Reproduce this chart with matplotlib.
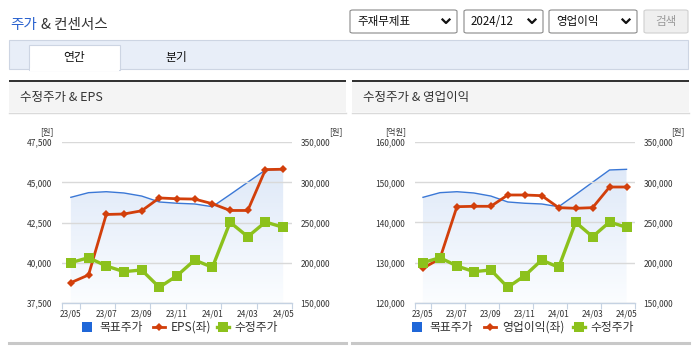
import numpy as np
import matplotlib.pyplot as plt
from matplotlib.patches import Rectangle, FancyBboxPatch
from matplotlib.lines import Line2D
from matplotlib.colors import LinearSegmentedColormap

plt.rcParams['font.family'] = ['Noto Sans CJK KR', 'DejaVu Sans']

# data
months = ['23/05', '23/06', '23/07', '23/08', '23/09', '23/10', '23/11',
          '23/12', '24/01', '24/02', '24/03', '24/04', '24/05']
target_price = [281400, 287200, 288400, 286800, 283000, 275600, 274000,
                273100, 269700, 284800, 300200, 315500, 316300]
adj_price = [200000, 206100, 195800, 188700, 190800, 169200, 183700,
             203200, 194100, 250300, 232300, 250600, 244000]
eps = [38750, 39230, 43000, 43030, 43230, 44030, 43980,
       43960, 43670, 43250, 43250, 45800, 45820]
op_income = [128580, 131000, 143940, 144040, 144040, 146860, 146860,
             146690, 143700, 143540, 143700, 148850, 148850]

eps_ticks = [37500, 40000, 42500, 45000, 47500]
op_ticks = [120000, 130000, 140000, 150000, 160000]
price_ticks = [150000, 200000, 250000, 300000, 350000]

W, H = 695, 349
BLUE = '#3b78d6'
RED = '#d23f0b'
GREEN = '#8cc11c'
TXT = '#333333'

fig = plt.figure(figsize=(W / 100, H / 100), dpi=100)
fig.patch.set_facecolor('white')


def fx(x):
    return x / W


def fy(y):
    return 1 - y / H


def rect(x, y, w, h, fc, ec='none', lw=0, z=0):
    fig.patches.append(Rectangle((fx(x), fy(y + h)), w / W, h / H, transform=fig.transFigure,
                                 facecolor=fc, edgecolor=ec, linewidth=lw, zorder=z))


def hline(x0, x1, y, color, lw=1.0):
    fig.add_artist(Line2D([fx(x0), fx(x1)], [fy(y), fy(y)], transform=fig.transFigure,
                          color=color, linewidth=lw))


# top title
fig.text(fx(10), fy(25), '주가', color='#2a62cf', fontsize=10.5, va='center')
fig.text(fx(41), fy(25), '& 컨센서스', color=TXT, fontsize=10.5, va='center')

# dropdowns
boxes = [(350, 457, '주재무제표'), (464, 543, '2024/12'), (549, 637, '영업이익')]
for x0, x1, lab in boxes:
    fig.patches.append(FancyBboxPatch((fx(x0), fy(33)), (x1 - x0) / W, 23 / H,
                                      boxstyle='round,pad=0,rounding_size=0.004',
                                      transform=fig.transFigure, facecolor='white',
                                      edgecolor='#8a8a8a', linewidth=0.8))
    fig.text(fx(x0 + 7), fy(21.5), lab, fontsize=8.3, color='#111111', va='center')
    cx = x1 - 11
    fig.add_artist(Line2D([fx(cx - 3.5), fx(cx), fx(cx + 3.5)], [fy(19.5), fy(23), fy(19.5)],
                          transform=fig.transFigure, color='#111111', linewidth=1.6))
fig.patches.append(FancyBboxPatch((fx(644), fy(33)), 44 / W, 23 / H,
                                  boxstyle='round,pad=0,rounding_size=0.004',
                                  transform=fig.transFigure, facecolor='#efefef',
                                  edgecolor='#cfcfcf', linewidth=0.8))
fig.text(fx(666), fy(21.5), '검색', fontsize=8.3, color='#9a9a9a', va='center', ha='center')

# tab bar
rect(9, 40, 679, 29, '#e8eef8', ec='#cdd5e3', lw=0.8)
rect(29, 45, 91, 25, 'white', ec='#cdd5e3', lw=0.8, z=1)
rect(29.6, 68, 89.8, 3, 'white', z=2)
fig.text(fx(74.5), fy(57.5), '연간', fontsize=8.5, color='#111111', ha='center', va='center')
fig.text(fx(176), fy(57.5), '분기', fontsize=8.5, color='#111111', ha='center', va='center')


def panel(x0, x1, title):
    rect(x0, 82, x1 - x0, 30, '#f4f4f4')
    rect(x0, 79.5, x1 - x0, 2.5, '#333333')
    hline(x0, x1, 112.5, '#dadada', 1.0)
    hline(x0, x1, 343, '#c8c8c8', 2.2)
    fig.text(fx(x0 + 11), fy(97), title, fontsize=9, color=TXT, va='center')


panel(9, 346, '수정주가 & EPS')
panel(352, 689, '수정주가 & 영업이익')

grad = LinearSegmentedColormap.from_list('g', ['#fbfdff', '#dfe9f8'])
x = np.arange(len(months))


def chart(left, right, lvals, lticks, lname, lunit, legend_x):
    top, bot = 142.3, 302.7
    ax = fig.add_axes([fx(left), fy(bot), (right - left) / W, (bot - top) / H])
    ax_area = ax.twinx()
    ax_top = ax.twinx()
    ax_area.set_zorder(0)
    ax.set_zorder(1)
    ax_top.set_zorder(2)
    ax.patch.set_visible(False)
    ax_top.patch.set_visible(False)

    for a in (ax, ax_area, ax_top):
        for s in a.spines.values():
            s.set_visible(False)
    ax.set_xlim(-0.5, len(months) - 0.5)
    ax.set_ylim(lticks[0], lticks[-1])
    ax_area.set_ylim(price_ticks[0], price_ticks[-1])
    ax_top.set_ylim(price_ticks[0], price_ticks[-1])

    # area + target price line
    poly = ax_area.fill_between(x, target_price, price_ticks[0], color='none', linewidth=0)
    img = ax_area.imshow(np.linspace(0, 1, 200).reshape(-1, 1), cmap=grad, aspect='auto',
                         extent=[-0.5, len(months) - 0.5, price_ticks[0], max(target_price)],
                         origin='lower', zorder=1)
    img.set_clip_path(poly.get_paths()[0], transform=ax_area.transData)
    ax_area.plot(x, target_price, color=BLUE, linewidth=1.0, zorder=2)
    ax_area.set_xlim(-0.5, len(months) - 0.5)
    ax_area.set_ylim(price_ticks[0], price_ticks[-1])
    ax_area.set_yticks([])

    # left series
    ax.plot(x, lvals, color=RED, linewidth=2.0, marker='D', markersize=4.2,
            markeredgewidth=0, zorder=3)
    # adjusted price
    ax_top.plot(x, adj_price, color=GREEN, linewidth=2.4, marker='s', markersize=6.5,
                markeredgewidth=0, zorder=3)

    ax.set_yticks(lticks)
    ax.set_yticklabels([f'{v:,}' for v in lticks])
    ax.grid(axis='y', color='#d9d9d9', linewidth=1.0)
    ax.set_axisbelow(True)
    ax.tick_params(axis='y', length=0, pad=7, labelsize=6, labelcolor=TXT)
    ax_top.set_yticks(price_ticks)
    ax_top.set_yticklabels([f'{v:,}' for v in price_ticks])
    ax_top.tick_params(axis='y', length=0, pad=6, labelsize=6, labelcolor=TXT)

    ax.set_xticks(x[::2])
    ax.set_xticklabels(months[::2])
    ax.set_xticks([-0.5] + [i + 0.5 for i in range(0, len(months) - 1, 2)] + [len(months) - 0.5],
                  minor=True)
    ax.set_xlim(-0.5, len(months) - 0.5)
    ax.tick_params(axis='x', which='major', length=0, pad=5, labelsize=6, labelcolor=TXT)
    ax.tick_params(axis='x', which='minor', length=4, width=0.8, color='#c5d2e2')
    ax.spines['bottom'].set_visible(True)
    ax.spines['bottom'].set_color('#c5d2e2')
    ax.spines['bottom'].set_linewidth(1.0)

    # units
    fig.text(fx(left - 8), fy(132), lunit, fontsize=6, color=TXT, ha='right', va='center')
    fig.text(fx(right + 50), fy(132), '[원]', fontsize=6, color=TXT, ha='right', va='center')

    # legend
    lx = legend_x
    ly = 327
    rect(lx[0], ly - 5, 10, 10, '#1f67d8', z=3)
    fig.text(fx(lx[0] + 17), fy(ly), '목표주가', fontsize=8.5, color=TXT, va='center')
    fig.add_artist(Line2D([fx(lx[1]), fx(lx[1] + 12)], [fy(ly), fy(ly)], transform=fig.transFigure,
                          color=RED, linewidth=2.0))
    fig.add_artist(Line2D([fx(lx[1] + 6)], [fy(ly)], transform=fig.transFigure, color=RED,
                          marker='D', markersize=4.2, markeredgewidth=0))
    fig.text(fx(lx[1] + 18), fy(ly), lname, fontsize=8.5, color=TXT, va='center')
    fig.add_artist(Line2D([fx(lx[2]), fx(lx[2] + 12)], [fy(ly), fy(ly)], transform=fig.transFigure,
                          color=GREEN, linewidth=2.4))
    fig.add_artist(Line2D([fx(lx[2] + 6)], [fy(ly)], transform=fig.transFigure, color=GREEN,
                          marker='s', markersize=6.5, markeredgewidth=0))
    fig.text(fx(lx[2] + 17), fy(ly), '수정주가', fontsize=8.5, color=TXT, va='center')


chart(62, 292, eps, eps_ticks, 'EPS(좌)', '[원]', (82, 153, 217))
chart(414.5, 635, op_income, op_ticks, '영업이익(좌)', '[억원]', (412, 484, 573))

fig.savefig('out.png', dpi=100)
